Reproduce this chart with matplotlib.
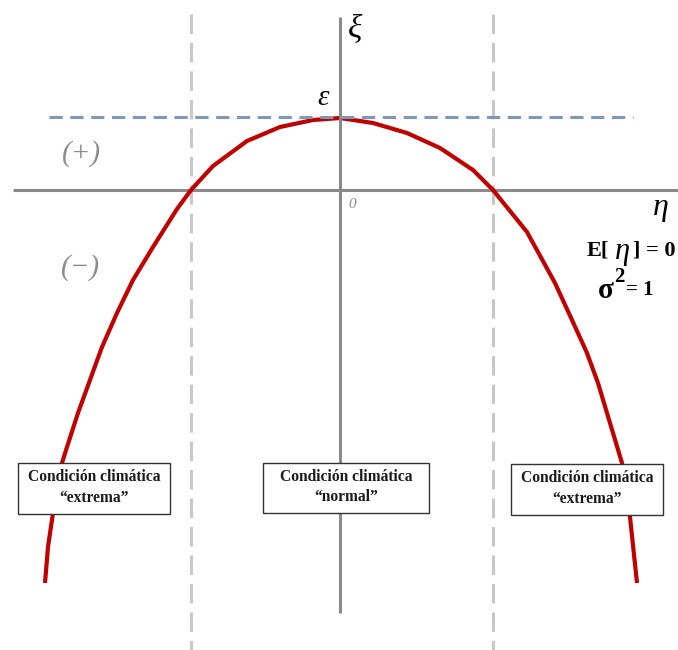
import matplotlib
matplotlib.use("Agg")
import matplotlib.pyplot as plt
from matplotlib.patches import Rectangle
from matplotlib import rcParams

rcParams.update({
    "font.family": ["Liberation Serif", "DejaVu Serif"],
    "lines.scale_dashes": False,
    "lines.solid_capstyle": "butt",
})

# --- values (eta, xi units) ------------------------------------------------
ETA = [-2.95, -2.92, -2.87, -2.78, -2.73, -2.62, -2.50, -2.38, -2.23, -2.07,
       -1.87, -1.63, -1.49, -1.27, -0.93, -0.60, -0.27, 0.00,
       0.33, 0.67, 1.00, 1.33, 1.53, 1.87, 2.15, 2.32, 2.47, 2.58,
       2.67, 2.82, 2.90, 2.97]
XI = [-3.93, -3.57, -3.23, -2.73, -2.57, -2.23, -1.90, -1.57, -1.23, -0.90,
      -0.57, -0.19, 0.00, 0.24, 0.49, 0.63, 0.70, 0.72,
      0.67, 0.57, 0.42, 0.20, 0.00, -0.42, -0.93, -1.30, -1.63, -1.93,
      -2.23, -2.73, -3.27, -3.93]
EPSILON = 0.73
BOUNDS = [-1.49, 1.53]
BOX_TEXT = ["Condición climática\n“extrema”",
            "Condición climática\n“normal”",
            "Condición climática\n“extrema”"]

RED = "#c00000"
AXIS_GREY = "#8a8a8a"
DASH_GREY = "#c8c8c8"
EPS_BLUE = "#7f98b6"


def px(x, y):
    """pixel position of the reference -> data coords"""
    return (x - 340) / 100.0, (190 - y) / 100.0


fig = plt.figure(figsize=(6.78, 6.5), dpi=100)
ax = fig.add_axes([0, 0, 1, 1])
ax.set_xlim(-3.40, 3.38)
ax.set_ylim(-4.60, 1.90)
ax.axis("off")

# vertical boundaries of the "normal" band
for b in BOUNDS:
    ax.plot([b, b], [1.76, -4.60], color=DASH_GREY, lw=2.2,
            ls=(0, (14, 6.5)), zorder=1)

# horizontal axis
ax.plot([-3.27, 3.38], [0, 0], color=AXIS_GREY, lw=2.2, zorder=2)

# curve
ax.plot(ETA, XI, color=RED, lw=3.0, zorder=3, solid_joinstyle="round")

# vertical axis and epsilon line
ax.plot([0, 0], [1.73, -4.23], color=AXIS_GREY, lw=2.2, zorder=4)
ax.plot([-2.91, 2.93], [EPSILON, EPSILON], color=EPS_BLUE, lw=2.2,
        ls=(0, (9.5, 5.5)), zorder=4)

# axis symbols
ax.text(*px(355, 30), "ξ", fontsize=24, style="italic", ha="center",
        va="center")
ax.text(*px(323, 98), "ε", fontsize=21, style="italic", ha="center",
        va="center")
ax.text(*px(352, 204), "0", fontsize=11, style="italic", color="#8a8a8a",
        ha="center", va="center")
ax.text(*px(661, 207), "η", fontsize=23, style="italic", ha="center",
        va="center")
ax.text(*px(82, 154), "(+)", fontsize=21, style="italic", color="#8c8c8c",
        ha="center", va="center")
ax.text(*px(81, 268), "(−)", fontsize=21, style="italic", color="#8c8c8c",
        ha="center", va="center")

# E[eta] = 0 and sigma^2 = 1
ax.text(*px(587, 250), "E[", fontsize=16, fontweight="bold", ha="left",
        va="center")
ax.text(*px(622, 252), "η", fontsize=22, style="italic", ha="center",
        va="center")
ax.text(*px(633, 250), "] = 0", fontsize=16, fontweight="bold", ha="left",
        va="center")
ax.text(*px(598, 290), "σ", fontsize=21, fontweight="bold", ha="left",
        va="center")
ax.text(*px(614, 277), "2", fontsize=15, fontweight="bold", ha="left",
        va="center")
ax.text(*px(626, 290), "= 1", fontsize=15, fontweight="bold", ha="left",
        va="center")

# condition boxes
boxes = [(18, 463, 170, 514), (263, 463, 429, 513), (511, 464, 663, 515)]
for (x0, y0, x1, y1), label in zip(boxes, BOX_TEXT):
    a, b = px(x0, y1)
    c, d = px(x1, y0)
    ax.add_patch(Rectangle((a, b), c - a, d - b, facecolor="white",
                           edgecolor="#333333", lw=1.0, zorder=5))
    ax.text((a + c) / 2, (b + d) / 2 + 0.01, label, fontsize=11.2,
            fontweight="bold", color="#1a1a1a", ha="center", va="center",
            linespacing=1.35, zorder=6)

fig.savefig("out.png", dpi=100, facecolor="white")
plt.close(fig)
